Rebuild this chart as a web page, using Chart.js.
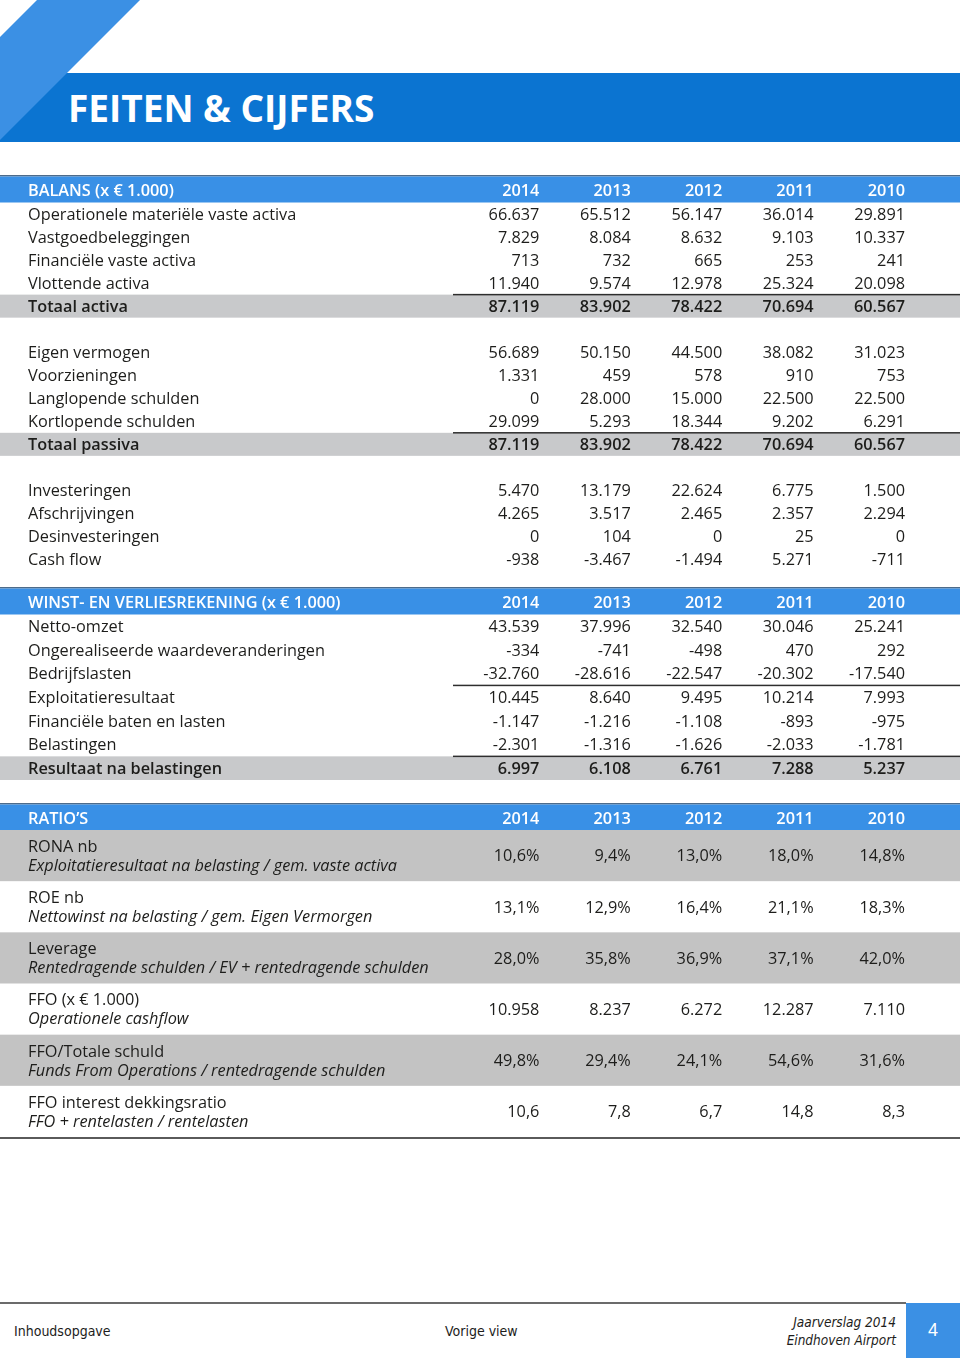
<!DOCTYPE html>
<html lang="nl">
<head>
<meta charset="UTF-8">
<title>Feiten &amp; Cijfers</title>
<script src="https://cdn.jsdelivr.net/npm/chart.js"></script>
<style>
  html, body { margin: 0; padding: 0; }
  body { width: 960px; height: 1358px; position: relative; overflow: hidden; background: #fff; font-family: 'Open Sans', 'Noto Sans', sans-serif; color: #1d1d1b; }
  .bar { position: absolute; left: 0; top: 73px; width: 960px; height: 69px; background: #0b74d1; }
  .stripe { position: absolute; left: 0; top: 0; width: 140px; height: 142px; background: #3b90e4; clip-path: polygon(37px 0, 140px 0, 0 140px, 0 37px); }
  h1 { position: absolute; left: 68px; top: 89px; margin: 0; color: #fff; font: 700 37px/37px 'Open Sans', sans-serif; }
  canvas { position: absolute; left: 0; }
  .footline { position: absolute; left: 0; top: 1302px; width: 906px; height: 2px; background: #6b6b6b; }
  .foot { position: absolute; top: 1321px; font: 14px/20px 'Liberation Sans Narrow', 'DejaVu Sans Condensed', sans-serif; color: #1d1d1b; }
  .foot.right { top: 1313px; right: 64px; text-align: right; font-style: italic; font-size: 13.5px; line-height: 18px; }
  .page { position: absolute; left: 906px; top: 1303px; width: 54px; height: 55px; background: #3b90e4; color: #fff; font: 18px/55px 'Liberation Sans Narrow', sans-serif; text-align: center; }
</style>
</head>
<body>
<div class="bar"></div>
<div class="stripe"></div>
<h1>FEITEN &amp; CIJFERS</h1>

<canvas id="balans" width="960" height="398" style="top:175px"></canvas>
<canvas id="winst" width="960" height="196" style="top:587px"></canvas>
<canvas id="ratios" width="960" height="337" style="top:803px"></canvas>

<div class="footline"></div>
<div class="foot" style="left:14px">Inhoudsopgave</div>
<div class="foot" style="left:445px">Vorige view</div>
<div class="foot right">Jaarverslag 2014<br>Eindhoven Airport</div>
<div class="page">4</div>

<script>
const years = ['2014', '2013', '2012', '2011', '2010'];

// balans (x 1.000 euro)
const balansTitle = 'BALANS (x € 1.000)';
const balansLabels = [
  'Operationele materiële vaste activa', 'Vastgoedbeleggingen', 'Financiële vaste activa', 'Vlottende activa', 'Totaal activa',
  '',
  'Eigen vermogen', 'Voorzieningen', 'Langlopende schulden', 'Kortlopende schulden', 'Totaal passiva',
  '',
  'Investeringen', 'Afschrijvingen', 'Desinvesteringen', 'Cash flow'
];
const balansValues = [
  [66637, 65512, 56147, 36014, 29891],
  [7829, 8084, 8632, 9103, 10337],
  [713, 732, 665, 253, 241],
  [11940, 9574, 12978, 25324, 20098],
  [87119, 83902, 78422, 70694, 60567],
  null,
  [56689, 50150, 44500, 38082, 31023],
  [1331, 459, 578, 910, 753],
  [0, 28000, 15000, 22500, 22500],
  [29099, 5293, 18344, 9202, 6291],
  [87119, 83902, 78422, 70694, 60567],
  null,
  [5470, 13179, 22624, 6775, 1500],
  [4265, 3517, 2465, 2357, 2294],
  [0, 104, 0, 25, 0],
  [-938, -3467, -1494, 5271, -711]
];
const balansTotals = ['Totaal activa', 'Totaal passiva'];

// winst- en verliesrekening (x 1.000 euro)
const winstTitle = 'WINST- EN VERLIESREKENING (x € 1.000)';
const winstLabels = [
  'Netto-omzet', 'Ongerealiseerde waardeveranderingen', 'Bedrijfslasten', 'Exploitatieresultaat',
  'Financiële baten en lasten', 'Belastingen', 'Resultaat na belastingen'
];
const winstValues = [
  [43539, 37996, 32540, 30046, 25241],
  [-334, -741, -498, 470, 292],
  [-32760, -28616, -22547, -20302, -17540],
  [10445, 8640, 9495, 10214, 7993],
  [-1147, -1216, -1108, -893, -975],
  [-2301, -1316, -1626, -2033, -1781],
  [6997, 6108, 6761, 7288, 5237]
];
const winstTotals = ['Resultaat na belastingen'];
const winstSubtotals = ['Exploitatieresultaat', 'Resultaat na belastingen'];

// ratio's
const ratioTitle = 'RATIO’S';
const ratioLabels = ['RONA nb', 'ROE nb', 'Leverage', 'FFO (x € 1.000)', 'FFO/Totale schuld', 'FFO interest dekkingsratio'];
const ratioNotes = [
  'Exploitatieresultaat na belasting / gem. vaste activa',
  'Nettowinst na belasting / gem. Eigen Vermorgen',
  'Rentedragende schulden / EV + rentedragende schulden',
  'Operationele cashflow',
  'Funds From Operations / rentedragende schulden',
  'FFO + rentelasten / rentelasten'
];
const ratioValues = [
  [10.6, 9.4, 13.0, 18.0, 14.8],
  [13.1, 12.9, 16.4, 21.1, 18.3],
  [28.0, 35.8, 36.9, 37.1, 42.0],
  [10958, 8237, 6272, 12287, 7110],
  [49.8, 29.4, 24.1, 54.6, 31.6],
  [10.6, 7.8, 6.7, 14.8, 8.3]
];
const ratioFormats = ['pct', 'pct', 'pct', 'int', 'pct', 'dec'];

const FONT = "'Open Sans', 'Noto Sans', sans-serif";
const SIZE = 16.3;
const INK = '#1d1d1b';
const HEAD_BLUE = '#3990e6';
const HEAD_EDGE = '#4d6b8a';
const TOTAL_GRAY = '#c8c9cb';
const RATIO_GRAY = '#c3c3c3';

function fmtInt(v) {
  const s = String(Math.abs(v)).replace(/\B(?=(\d{3})+(?!\d))/g, '.');
  return (v < 0 ? '-' : '') + s;
}
function fmt(v, kind) {
  if (kind === 'pct') return v.toFixed(1).replace('.', ',') + '%';
  if (kind === 'dec') return v.toFixed(1).replace('.', ',');
  return fmtInt(v);
}

// text vertically centred on the cap height
function label(ctx, str, x, y, weight, align, italic) {
  ctx.font = (italic ? 'italic ' : '') + weight + ' ' + SIZE + 'px ' + FONT;
  ctx.textAlign = align;
  ctx.textBaseline = 'alphabetic';
  ctx.fillText(str, x, y + SIZE * 0.357);
}

function tableLayer(t) {
  return {
    id: 'tableLayer',
    afterDraw(chart) {
      const { ctx, chartArea: area, scales: { x, y } } = chart;
      const W = chart.width;
      const rowH = y.height / y.getLabels().length;
      const colW = x.width / x.getLabels().length;
      const colRight = j => x.getPixelForValue(j) + colW / 2;
      ctx.save();

      // blue header row
      ctx.fillStyle = HEAD_EDGE;
      ctx.fillRect(0, 0, W, 1.5);
      ctx.fillStyle = HEAD_BLUE;
      ctx.fillRect(0, 1.5, W, area.top - 1.5);
      const hy = (area.top + 1.5) / 2 + 0.5;
      ctx.fillStyle = '#fff';
      label(ctx, t.title, 28, hy, 600, 'left');
      x.getLabels().forEach((yr, j) => label(ctx, yr, colRight(j), hy, 600, 'right'));

      y.getLabels().forEach((name, i) => {
        if (!name) return;
        const yc = y.getPixelForValue(i);
        const top = yc - rowH / 2;
        const bold = (t.totals || []).includes(name);
        if (bold || (t.shaded && i % 2 === 0)) {
          ctx.fillStyle = t.shaded ? RATIO_GRAY : TOTAL_GRAY;
          ctx.fillRect(0, top, W, rowH);
        }
        if ((t.rules || []).includes(name)) {
          ctx.fillStyle = '#2e2e2e';
          ctx.fillRect(area.left + 5, top - 0.75, W - area.left - 5, 1.5);
        }
        ctx.fillStyle = INK;
        const weight = bold ? 600 : 400;
        if (t.notes) {
          label(ctx, name, 28, yc - 9.5, weight, 'left');
          label(ctx, t.notes[i], 28, yc + 9.5, weight, 'left', true);
        } else {
          label(ctx, name, 28, yc, weight, 'left');
        }
        t.values[i].forEach((v, j) => label(ctx, fmt(v, t.formats ? t.formats[i] : 'int'), colRight(j), yc, weight, 'right'));
      });

      if (t.bottomRule) {
        ctx.fillStyle = '#5a5a5a';
        ctx.fillRect(0, area.bottom, W, 2);
      }
      ctx.restore();
    }
  };
}

function makeTable(id, rows, layer, pad) {
  return new Chart(document.getElementById(id), {
    type: 'bar',
    data: { xLabels: years, yLabels: rows, datasets: [] },
    options: {
      responsive: false,
      animation: false,
      events: [],
      layout: { padding: pad },
      plugins: { legend: { display: false }, tooltip: { enabled: false } },
      scales: {
        x: { type: 'category', offset: true, display: false },
        y: { type: 'category', offset: true, display: false }
      }
    },
    plugins: [layer]
  });
}

const charts = [
  makeTable('balans', balansLabels,
    tableLayer({ title: balansTitle, values: balansValues, totals: balansTotals, rules: balansTotals }),
    { left: 448, right: 55, top: 27.5, bottom: 2 }),
  makeTable('winst', winstLabels,
    tableLayer({ title: winstTitle, values: winstValues, totals: winstTotals, rules: winstSubtotals }),
    { left: 448, right: 55, top: 27.5, bottom: 3 }),
  makeTable('ratios', ratioLabels,
    tableLayer({ title: ratioTitle, values: ratioValues, notes: ratioNotes, formats: ratioFormats, shaded: true, bottomRule: true }),
    { left: 448, right: 55, top: 27, bottom: 3 })
];

if (document.fonts) {
  document.fonts.ready.then(() => charts.forEach(c => c.draw()));
}
</script>
</body>
</html>
